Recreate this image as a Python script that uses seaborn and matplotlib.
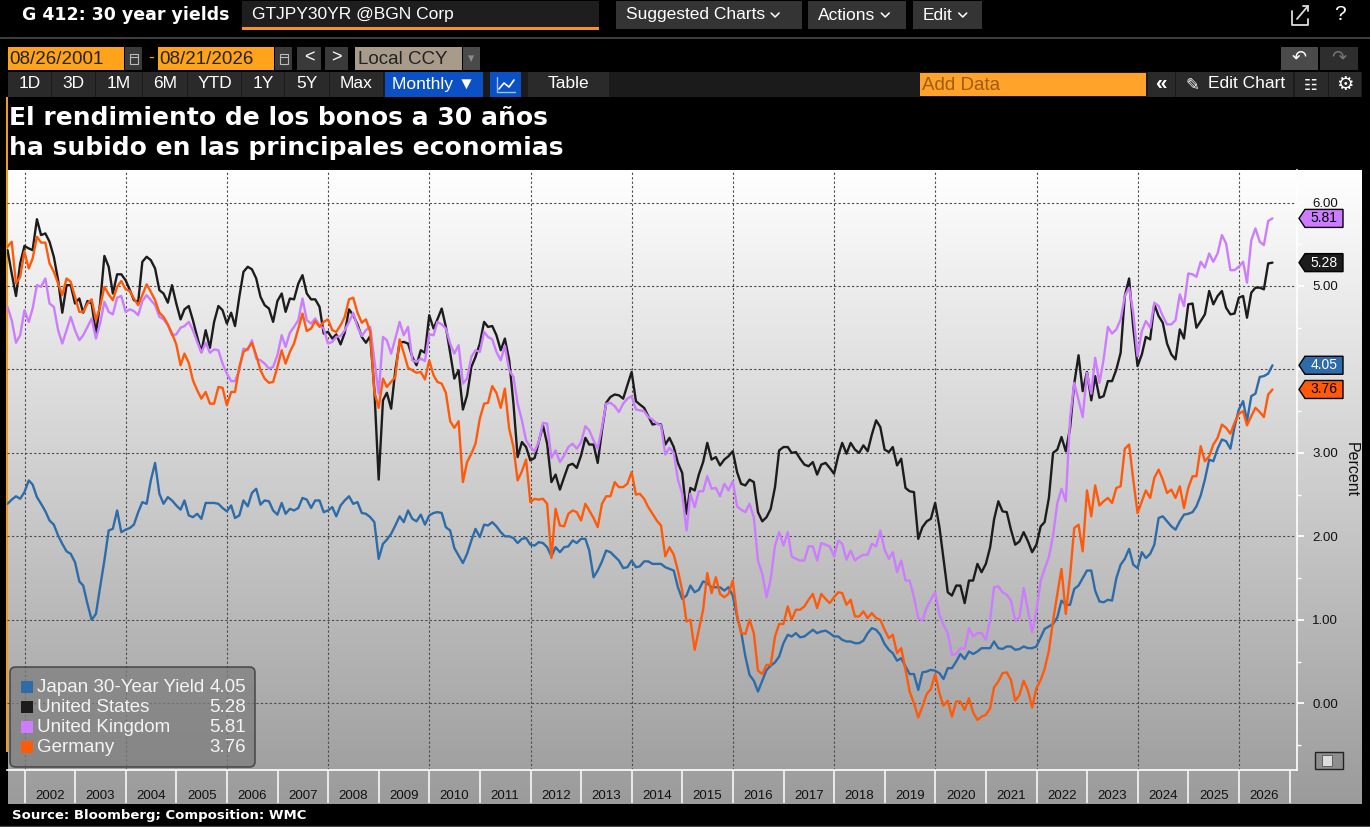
import numpy as np
import pandas as pd
import matplotlib
matplotlib.use("Agg")
import matplotlib.pyplot as plt
import seaborn as sns
from matplotlib.patches import Rectangle, Polygon, FancyBboxPatch
from matplotlib.lines import Line2D
from matplotlib.colors import LinearSegmentedColormap

# monthly closes, Aug 2001 .. Aug 2026 (one line per year)
japan = [
    2.39, 2.44, 2.48, 2.45, 2.53,
    2.67, 2.62, 2.47, 2.39, 2.30, 2.19, 2.14, 2.01, 1.91, 1.82, 1.79, 1.69,
    1.46, 1.41, 1.19, 1.00, 1.07, 1.39, 1.71, 2.07, 2.09, 2.31, 2.05, 2.08,
    2.10, 2.14, 2.29, 2.41, 2.39, 2.67, 2.88, 2.51, 2.39, 2.47, 2.43, 2.37,
    2.32, 2.43, 2.25, 2.23, 2.27, 2.21, 2.40, 2.40, 2.40, 2.39, 2.34, 2.30,
    2.37, 2.22, 2.25, 2.43, 2.36, 2.52, 2.57, 2.38, 2.43, 2.42, 2.31, 2.26,
    2.40, 2.27, 2.33, 2.31, 2.34, 2.46, 2.44, 2.34, 2.43, 2.43, 2.29, 2.31,
    2.35, 2.24, 2.37, 2.43, 2.48, 2.39, 2.41, 2.28, 2.27, 2.23, 2.17, 1.73,
    1.91, 1.96, 2.03, 2.13, 2.24, 2.17, 2.31, 2.21, 2.18, 2.26, 2.14, 2.25,
    2.28, 2.29, 2.28, 2.11, 2.07, 1.86, 1.77, 1.68, 1.79, 1.95, 2.09, 1.99,
    2.14, 2.13, 2.17, 2.12, 2.05, 2.00, 2.00, 1.98, 1.92, 1.97, 1.98, 1.90,
    1.89, 1.93, 1.92, 1.87, 1.76, 1.87, 1.81, 1.87, 1.88, 1.95, 1.92, 1.97,
    1.97, 1.83, 1.51, 1.59, 1.70, 1.83, 1.81, 1.76, 1.71, 1.62, 1.63, 1.71,
    1.63, 1.64, 1.70, 1.70, 1.67, 1.67, 1.67, 1.63, 1.61, 1.59, 1.39, 1.25,
    1.29, 1.41, 1.33, 1.36, 1.46, 1.44, 1.39, 1.39, 1.39, 1.35, 1.39, 1.29,
    1.04, 0.86, 0.56, 0.34, 0.27, 0.14, 0.27, 0.40, 0.45, 0.49, 0.56, 0.72,
    0.82, 0.80, 0.84, 0.79, 0.80, 0.84, 0.88, 0.84, 0.86, 0.87, 0.84, 0.80,
    0.80, 0.76, 0.74, 0.74, 0.72, 0.72, 0.75, 0.84, 0.90, 0.88, 0.82, 0.71,
    0.64, 0.60, 0.51, 0.54, 0.44, 0.35, 0.35, 0.16, 0.37, 0.38, 0.40, 0.39,
    0.36, 0.29, 0.42, 0.42, 0.50, 0.59, 0.53, 0.62, 0.59, 0.62, 0.66, 0.66,
    0.66, 0.74, 0.66, 0.65, 0.68, 0.68, 0.64, 0.65, 0.68, 0.66, 0.66, 0.68,
    0.79, 0.89, 0.92, 0.95, 1.03, 1.23, 1.18, 1.18, 1.37, 1.41, 1.50, 1.59,
    1.59, 1.35, 1.22, 1.21, 1.24, 1.23, 1.50, 1.66, 1.73, 1.85, 1.66, 1.62,
    1.81, 1.74, 1.79, 1.90, 2.22, 2.24, 2.18, 2.12, 2.08, 2.18, 2.26, 2.27,
    2.29, 2.36, 2.49, 2.68, 2.92, 2.90, 3.05, 3.16, 3.14, 3.05, 3.31, 3.52,
    3.62, 3.38, 3.68, 3.71, 3.91, 3.92, 3.95, 4.05,
]
united_states = [
    5.43, 5.15, 4.88, 5.27, 5.48,
    5.45, 5.43, 5.80, 5.61, 5.63, 5.53, 5.35, 5.07, 4.68, 5.01, 5.01, 4.79,
    4.85, 4.68, 4.82, 4.79, 4.43, 4.79, 5.36, 5.23, 4.91, 5.14, 5.14, 5.07,
    4.95, 4.83, 4.81, 5.29, 5.35, 5.31, 5.21, 4.95, 4.91, 4.80, 5.01, 4.79,
    4.60, 4.72, 4.76, 4.59, 4.39, 4.21, 4.47, 4.26, 4.57, 4.76, 4.71, 4.55,
    4.68, 4.52, 4.87, 5.17, 5.23, 5.20, 5.09, 4.87, 4.77, 4.73, 4.57, 4.82,
    4.91, 4.69, 4.85, 4.84, 5.03, 5.13, 4.91, 4.84, 4.84, 4.75, 4.43, 4.45,
    4.37, 4.42, 4.30, 4.44, 4.72, 4.65, 4.54, 4.39, 4.32, 4.40, 3.75, 2.68,
    3.63, 3.72, 3.53, 3.99, 4.32, 4.33, 4.31, 4.15, 4.05, 4.23, 4.20, 4.65,
    4.49, 4.60, 4.73, 4.51, 4.20, 3.89, 3.99, 3.52, 3.69, 4.03, 4.15, 4.31,
    4.57, 4.51, 4.52, 4.41, 4.23, 4.37, 4.11, 3.59, 2.95, 3.13, 3.07, 2.91,
    2.94, 3.13, 3.33, 3.11, 2.65, 2.74, 2.56, 2.71, 2.85, 2.87, 2.82, 2.97,
    3.18, 3.10, 3.10, 2.88, 3.27, 3.60, 3.67, 3.70, 3.69, 3.65, 3.81, 3.97,
    3.62, 3.58, 3.54, 3.44, 3.34, 3.35, 3.34, 3.10, 3.18, 3.07, 2.88, 2.76,
    2.27, 2.58, 2.55, 2.74, 2.89, 3.12, 2.92, 2.95, 2.85, 2.92, 2.96, 3.02,
    2.77, 2.63, 2.61, 2.68, 2.65, 2.29, 2.18, 2.23, 2.33, 2.59, 3.03, 3.07,
    3.07, 3.00, 3.01, 2.93, 2.86, 2.84, 2.89, 2.74, 2.86, 2.88, 2.82, 2.75,
    2.97, 3.12, 2.99, 3.12, 3.04, 3.00, 3.09, 3.02, 3.22, 3.39, 3.31, 3.04,
    3.01, 3.07, 2.85, 2.93, 2.58, 2.54, 2.53, 1.97, 2.11, 2.18, 2.21, 2.40,
    2.11, 1.73, 1.33, 1.29, 1.41, 1.41, 1.20, 1.47, 1.47, 1.67, 1.57, 1.67,
    1.87, 2.20, 2.42, 2.30, 2.29, 2.08, 1.90, 1.94, 2.05, 1.94, 1.81, 1.90,
    2.12, 2.17, 2.46, 3.00, 3.04, 3.19, 3.02, 3.30, 3.83, 4.17, 3.74, 3.97,
    3.63, 3.92, 3.66, 3.68, 3.86, 3.86, 4.00, 4.20, 4.88, 5.09, 4.50, 4.04,
    4.18, 4.39, 4.36, 4.78, 4.64, 4.56, 4.31, 4.18, 4.12, 4.48, 4.37, 4.78,
    4.79, 4.50, 4.58, 4.66, 4.94, 4.78, 4.88, 4.94, 4.74, 4.66, 4.67, 4.86,
    4.88, 4.62, 4.92, 4.98, 4.98, 4.96, 5.27, 5.28,
]
united_kingdom = [
    4.75, 4.59, 4.32, 4.41, 4.71,
    4.57, 4.73, 5.01, 4.99, 5.09, 4.79, 4.75, 4.47, 4.31, 4.47, 4.63, 4.47,
    4.35, 4.41, 4.51, 4.61, 4.37, 4.55, 4.81, 4.69, 4.66, 4.86, 4.88, 4.69,
    4.72, 4.70, 4.65, 4.82, 4.89, 4.83, 4.77, 4.63, 4.60, 4.53, 4.41, 4.42,
    4.50, 4.52, 4.57, 4.47, 4.33, 4.20, 4.32, 4.20, 4.24, 4.23, 4.07, 3.95,
    3.86, 3.86, 3.99, 4.25, 4.23, 4.35, 4.13, 4.11, 4.07, 4.01, 4.03, 4.17,
    4.41, 4.27, 4.44, 4.51, 4.59, 4.85, 4.59, 4.55, 4.61, 4.53, 4.49, 4.31,
    4.33, 4.39, 4.40, 4.47, 4.57, 4.68, 4.51, 4.40, 4.47, 4.51, 4.11, 3.71,
    4.39, 4.35, 4.19, 4.37, 4.57, 4.41, 4.51, 4.11, 4.09, 4.13, 4.10, 4.42,
    4.41, 4.57, 4.54, 4.49, 4.31, 4.19, 4.29, 3.83, 3.89, 4.15, 4.23, 4.21,
    4.45, 4.39, 4.36, 4.21, 4.11, 4.28, 3.99, 3.91, 3.59, 3.39, 3.15, 3.07,
    3.02, 3.13, 3.36, 3.35, 2.94, 3.03, 2.89, 2.97, 3.07, 3.11, 3.05, 3.13,
    3.32, 3.27, 3.15, 3.05, 3.31, 3.59, 3.60, 3.56, 3.49, 3.59, 3.65, 3.68,
    3.52, 3.51, 3.50, 3.43, 3.40, 3.35, 3.33, 2.98, 3.06, 3.00, 2.68, 2.51,
    2.07, 2.51, 2.35, 2.54, 2.54, 2.72, 2.57, 2.58, 2.48, 2.63, 2.55, 2.66,
    2.36, 2.32, 2.29, 2.39, 2.23, 1.71, 1.55, 1.27, 1.49, 1.89, 2.05, 1.89,
    2.05, 1.76, 1.73, 1.71, 1.71, 1.88, 1.88, 1.71, 1.92, 1.90, 1.88, 1.76,
    1.95, 1.91, 1.72, 1.83, 1.71, 1.75, 1.78, 1.78, 1.91, 1.88, 2.07, 1.84,
    1.73, 1.81, 1.57, 1.71, 1.47, 1.47, 1.27, 1.02, 0.99, 1.15, 1.24, 1.33,
    1.06, 0.94, 0.84, 0.58, 0.59, 0.66, 0.65, 0.90, 0.80, 0.84, 0.84, 0.76,
    1.00, 1.39, 1.40, 1.33, 1.30, 1.23, 0.99, 1.03, 1.38, 1.11, 0.85, 1.11,
    1.47, 1.61, 1.75, 2.01, 2.40, 2.57, 2.42, 3.42, 3.84, 3.63, 3.43, 3.96,
    3.71, 4.14, 3.84, 4.12, 4.51, 4.43, 4.48, 4.60, 4.88, 4.98, 4.68, 4.16,
    4.46, 4.58, 4.50, 4.80, 4.76, 4.64, 4.54, 4.54, 4.59, 4.90, 4.76, 5.15,
    5.14, 5.11, 5.29, 5.22, 5.39, 5.29, 5.39, 5.61, 5.51, 5.19, 5.19, 5.23,
    5.29, 5.04, 5.55, 5.69, 5.53, 5.49, 5.78, 5.81,
]
germany = [
    5.47, 5.53, 5.03, 5.11, 5.41,
    5.21, 5.33, 5.59, 5.52, 5.52, 5.27, 5.17, 5.03, 4.89, 5.09, 5.05, 4.87,
    4.69, 4.69, 4.79, 4.84, 4.59, 4.75, 4.99, 4.90, 4.83, 4.99, 5.06, 4.96,
    4.94, 4.85, 4.77, 4.89, 5.02, 4.93, 4.83, 4.68, 4.63, 4.54, 4.43, 4.30,
    4.05, 4.19, 4.08, 3.87, 3.75, 3.65, 3.73, 3.59, 3.59, 3.79, 3.78, 3.57,
    3.73, 3.73, 4.03, 4.21, 4.25, 4.32, 4.17, 3.99, 3.89, 3.84, 3.85, 4.03,
    4.23, 4.07, 4.21, 4.31, 4.49, 4.67, 4.46, 4.49, 4.58, 4.51, 4.57, 4.60,
    4.47, 4.45, 4.53, 4.63, 4.84, 4.86, 4.68, 4.56, 4.60, 4.45, 3.73, 3.54,
    3.89, 3.79, 3.85, 3.91, 4.36, 4.20, 4.02, 3.99, 3.96, 3.97, 3.88, 4.11,
    3.93, 3.85, 3.83, 3.72, 3.38, 3.30, 3.38, 2.65, 2.89, 2.99, 3.11, 3.41,
    3.59, 3.60, 3.80, 3.72, 3.54, 3.77, 3.29, 3.07, 2.67, 2.78, 2.92, 2.41,
    2.45, 2.44, 2.45, 2.39, 1.74, 2.33, 2.13, 2.12, 2.27, 2.31, 2.29, 2.19,
    2.39, 2.31, 2.22, 2.11, 2.39, 2.48, 2.48, 2.65, 2.59, 2.59, 2.63, 2.77,
    2.50, 2.51, 2.45, 2.35, 2.27, 2.19, 2.13, 1.76, 1.87, 1.78, 1.59, 1.35,
    0.98, 1.00, 0.64, 0.88, 1.12, 1.56, 1.32, 1.51, 1.31, 1.27, 1.31, 1.47,
    1.06, 0.84, 0.83, 1.00, 0.84, 0.39, 0.35, 0.46, 0.46, 0.80, 0.95, 0.95,
    1.16, 1.00, 1.12, 1.12, 1.16, 1.24, 1.31, 1.14, 1.31, 1.25, 1.20, 1.27,
    1.33, 1.32, 1.18, 1.24, 1.04, 1.04, 1.10, 1.02, 1.08, 1.02, 1.00, 0.88,
    0.78, 0.82, 0.60, 0.66, 0.40, 0.14, 0.00, -0.17, -0.04, 0.11, 0.17, 0.35,
    0.12, -0.03, 0.03, -0.16, 0.02, 0.02, -0.08, 0.06, -0.11, -0.20, -0.16, -0.14,
    -0.06, 0.19, 0.26, 0.36, 0.37, 0.28, 0.03, 0.10, 0.27, 0.15, -0.05, 0.18,
    0.28, 0.41, 0.63, 0.99, 1.31, 1.61, 1.07, 1.53, 2.10, 2.14, 1.82, 2.55,
    2.24, 2.61, 2.37, 2.42, 2.46, 2.40, 2.58, 2.60, 3.05, 3.10, 2.68, 2.28,
    2.42, 2.55, 2.46, 2.70, 2.80, 2.68, 2.52, 2.56, 2.46, 2.60, 2.34, 2.58,
    2.72, 2.72, 3.08, 2.90, 2.96, 3.10, 3.18, 3.34, 3.30, 3.23, 3.36, 3.47,
    3.50, 3.33, 3.44, 3.54, 3.49, 3.43, 3.70, 3.76,
]

names = ["Japan 30-Year Yield", "United States", "United Kingdom", "Germany"]
colors = ["#2d6ca8", "#1c1c1c", "#cc7dff", "#ff5a0a"]
tag_text_colors = ["white", "white", "black", "black"]
year_labels = list(range(2002, 2027))
ytick_values = [0, 1, 2, 3, 4, 5, 6]

months = pd.date_range("2001-08-31", periods=len(japan), freq="ME")
series = [japan, united_states, united_kingdom, germany]
df = pd.DataFrame({
    "date": np.tile(months, len(names)),
    "yield": np.concatenate(series),
    "series": np.repeat(names, len(months)),
})

sns.set_style("white")
plt.rcParams["font.family"] = ["Liberation Sans", "DejaVu Sans"]

W, H = 1370, 827
fig = plt.figure(figsize=(W / 100, H / 100), dpi=100, facecolor="black")


def fx(x):
    return x / W


def fy(y):
    return 1 - y / H


def box(x0, y0, x1, y1, color, **kw):
    fig.patches.append(Rectangle((fx(x0), fy(y1)), (x1 - x0) / W, (y1 - y0) / H,
                                 transform=fig.transFigure, facecolor=color,
                                 edgecolor=kw.pop("ec", "none"), **kw))


def label(x, y, s, **kw):
    kw.setdefault("va", "center")
    kw.setdefault("color", "white")
    fig.text(fx(x), fy(y), s, **kw)


def line(xs, ys, color, lw=1.2):
    fig.add_artist(Line2D([fx(v) for v in xs], [fy(v) for v in ys],
                          transform=fig.transFigure, color=color, lw=lw))


def chevron(cx, cy, color="white"):
    line([cx - 4, cx, cx + 4], [cy - 2, cy + 2, cy - 2], color, 1.1)


# ---- terminal header ----
label(22, 15, "G 412: 30 year yields", fontsize=12.5, fontweight="bold",
      family="DejaVu Sans")
box(242, 1, 599, 28, "#1e1e1e")
box(242, 27, 599, 29.5, "#f7931e")
label(252, 15, "GTJPY30YR @BGN Corp", fontsize=12.5)
for x0, x1, txt in [(616, 802, "Suggested Charts"), (808, 906, "Actions"),
                    (913, 982, "Edit")]:
    box(x0, 1, x1, 29, "#343434")
    t = fig.text(fx(x0 + 10), fy(15), txt, fontsize=12.5, color="white", va="center")
    tw = t.get_window_extent(fig.canvas.get_renderer()).width
    chevron(x0 + 10 + tw + 10, 15)
line([1292, 1292, 1308, 1308], [11, 25, 25, 19], "#dddddd", 1.3)
line([1297, 1308], [19, 6], "#dddddd", 1.3)
line([1303, 1308, 1308], [6, 6, 11], "#dddddd", 1.3)
label(1340, 15, "?", fontsize=15, ha="center")
line([0, 1370], [38, 38], "#4a4a4a", 1.2)

# date row
box(8, 47, 124, 70, "#ffa31a")
label(9, 59, "08/26/2001", fontsize=13.5, color="#222222")
box(125, 47, 142, 70, "#3a3a3a")
box(158, 47, 274, 70, "#ffa31a")
label(159, 59, "08/21/2026", fontsize=13.5, color="#222222")
box(275, 47, 292, 70, "#3a3a3a")
for cx in (133.5, 283.5):
    box(cx - 4, 54, cx + 4, 64, "none", ec="#bbbbbb", lw=0.8)
    line([cx - 4, cx + 4], [57, 57], "#bbbbbb", 0.8)
label(151, 58, "-", fontsize=12.5, color="#ffa31a", ha="center")
box(297, 47, 321, 70, "#3a3a3a")
label(309, 58, "<", fontsize=13, ha="center")
box(325, 47, 348, 70, "#3a3a3a")
label(336, 58, ">", fontsize=13, ha="center")
box(355, 47, 462, 70, "#a89b8a")
label(358, 59, "Local CCY", fontsize=13.5, color="#222222")
box(463, 47, 480, 70, "#4a4a4a")
label(471, 59, "\u25be", fontsize=9, color="#8a8a8a", ha="center")
box(1281, 47, 1318, 70, "#4a4a4a")
label(1299, 58, "\u21b6", fontsize=13, ha="center", family="DejaVu Sans")
box(1320, 47, 1358, 70, "#2e2e2e")
label(1339, 58, "\u21b7", fontsize=13, ha="center", color="#777777", family="DejaVu Sans")

# range / tool row
box(8, 72, 1362, 97, "#1b1b1b")
for x0, x1, txt in [(8, 51, "1D"), (52, 95, "3D"), (96, 142, "1M"), (143, 187, "6M"),
                    (188, 241, "YTD"), (242, 284, "1Y"), (285, 329, "5Y"), (330, 383, "Max"),
                    (528, 609, "Table")]:
    box(x0, 72, x1, 97, "#2a2a2a")
    label((x0 + x1) / 2, 84, txt, fontsize=12.5, ha="center")
box(385, 72, 483, 97, "#0b50c4")
label(434, 84, "Monthly \u25bc", fontsize=12.5, ha="center")
box(490, 72, 521, 97, "#0b50c4")
line([497, 497, 515], [77, 92, 92], "#9fc0ff", 1)
line([499, 504, 509, 514], [89, 83, 87, 80], "white", 1.2)
box(920, 73, 1146, 96, "#ffa32a")
label(922, 85, "Add Data", fontsize=13.5, color="#a05c10")
for x0, x1 in [(1148, 1175), (1176, 1293), (1295, 1328), (1329, 1361)]:
    box(x0, 72, x1, 97, "#2a2a2a")
label(1161, 84, "\u00ab", fontsize=15, ha="center", fontweight="bold")
label(1192, 85, "\u270e", fontsize=12, ha="center", family="DejaVu Sans")
label(1208, 84, "Edit Chart", fontsize=12.5)
label(1311, 85, "\u2637", fontsize=11, ha="center", family="DejaVu Sans")
label(1345, 84, "\u2699", fontsize=14, ha="center", family="DejaVu Sans")

# title
label(9, 118, "El rendimiento de los bonos a 30 a\u00f1os", fontsize=18,
      fontweight="bold", family="DejaVu Sans")
label(9, 148, "ha subido en las principales economias", fontsize=18,
      fontweight="bold", family="DejaVu Sans")

# ---- chart background ----
bg = fig.add_axes([fx(8), fy(804), fx(1362) - fx(8), (804 - 170) / H], zorder=0)
grad = LinearSegmentedColormap.from_list("bbg", ["#ffffff", "#9b9b9b"])
bg.imshow(np.linspace(0, 1, 256).reshape(-1, 1), cmap=grad, aspect="auto",
          extent=[0, 1, 0, 1])
bg.set_axis_off()
box(1362, 97, 1370, 805, "black")
box(5.5, 97, 8, 752, "#f39a1c")

# ---- main axes ----
px_left, px_right, px_top, px_bottom = 7, 1297, 170, 770
ax = fig.add_axes([fx(px_left), fy(px_bottom), (px_right - px_left) / W,
                   (px_bottom - px_top) / H], zorder=2)
ax.set_facecolor("none")

sns.lineplot(data=df, x="date", y="yield", hue="series", hue_order=names,
             palette=dict(zip(names, colors)), linewidth=1.7, legend=False, ax=ax)

ax.set_xlim(pd.Timestamp("2001-08-27"), pd.Timestamp("2027-02-24"))
ax.set_ylim(-0.80, 6.39)
ax.set_xlabel("")
ax.set_ylabel("")

grid_kw = dict(color="#4a4a4a", linestyle=(0, (2, 2)), linewidth=0.8, zorder=0.5)
for v in ytick_values:
    ax.axhline(v, **grid_kw)
for y in range(2002, 2027, 2):
    ax.axvline(pd.Timestamp(f"{y}-01-01"), **grid_kw)

ax.set_xticks([pd.Timestamp(f"{y}-01-01") for y in year_labels + [2027]])
ax.set_xticklabels([])
ax.set_xticks([pd.Timestamp(f"{y}-07-02") for y in year_labels], minor=True)
ax.set_xticklabels([str(y) for y in year_labels], minor=True)
ax.tick_params(axis="x", which="major", bottom=True, length=24, width=1.1,
               color="white", direction="out", labelbottom=False)
ax.tick_params(axis="x", which="minor", bottom=True, length=0, pad=14.5,
               labelsize=9.5, labelcolor="#111111")

ax.yaxis.tick_right()
ax.set_yticks(ytick_values)
# the 4.00 label sits under the Japan value tag, as in the terminal
ax.set_yticklabels(["" if v == 4 else f"{v:.2f}" for v in ytick_values])
ax.set_yticks(np.arange(-0.5, 6.5, 1.0), minor=True)
ax.tick_params(axis="y", which="both", left=False, right=True, labelleft=False,
               labelright=True)
ax.tick_params(axis="y", which="major", length=5, width=1.3, color="white",
               pad=6, labelsize=9.5, labelcolor="#111111")
ax.tick_params(axis="y", which="minor", length=3, width=1, color="white")

for side in ("top", "left"):
    ax.spines[side].set_visible(False)
for side in ("right", "bottom"):
    ax.spines[side].set_color("white")
    ax.spines[side].set_linewidth(1.2)

label(1351, 470, "Percent", fontsize=11.5, color="#111111", rotation=270, ha="center")

# last-value tags on the axis
ytr = ax.get_yaxis_transform()
unit_px = (px_bottom - px_top) / (6.39 + 0.80)
half = 9 / unit_px


def ax_x(px):
    return (px - px_left) / (px_right - px_left)


for vals, col, tcol in zip(series, colors, tag_text_colors):
    last = vals[-1]
    pts = [(ax_x(1299), last), (ax_x(1305), last + half), (ax_x(1343), last + half),
           (ax_x(1343), last - half), (ax_x(1305), last - half)]
    ax.add_patch(Polygon(pts, closed=True, transform=ytr, facecolor=col,
                         edgecolor="black", lw=1, clip_on=False, zorder=10))
    ax.text(ax_x(1324), last, f"{last:.2f}", transform=ytr, ha="center", va="center",
            fontsize=10, color=tcol, clip_on=False, zorder=11)

# legend panel
leg = FancyBboxPatch((fx(10), fy(767)), 245 / W, 100 / H,
                     boxstyle="round,pad=0,rounding_size=0.004", mutation_aspect=W / H,
                     transform=fig.transFigure, facecolor="#7e7e7e", alpha=0.75,
                     edgecolor="#333333", lw=1.2, zorder=3)
fig.patches.append(leg)
for i, (name, vals, col) in enumerate(zip(names, series, colors)):
    yc = 687 + i * 20
    box(21, yc - 6, 33, yc + 6, col, zorder=4)
    label(37, yc + 1, name, fontsize=13.5, color="#f4f4f4", zorder=4)
    label(246, yc + 1, f"{vals[-1]:.2f}", fontsize=13.5, color="#f4f4f4", ha="right", zorder=4)

# small chart-type toggle
box(1315, 752, 1343, 769, "#8e8e8e", ec="#222222", lw=1, zorder=4)
box(1322, 755, 1332, 766, "#dddddd", ec="#555555", lw=0.6, zorder=5)

# footer
box(0, 804, 1370, 827, "black")
line([0, 1370], [825.5, 825.5], "#444444", 1)
label(12, 815, "Source: Bloomberg; Composition: WMC", fontsize=9.5, fontweight="bold",
      family="DejaVu Sans")

fig.savefig("out.png", dpi=100, facecolor="black")
